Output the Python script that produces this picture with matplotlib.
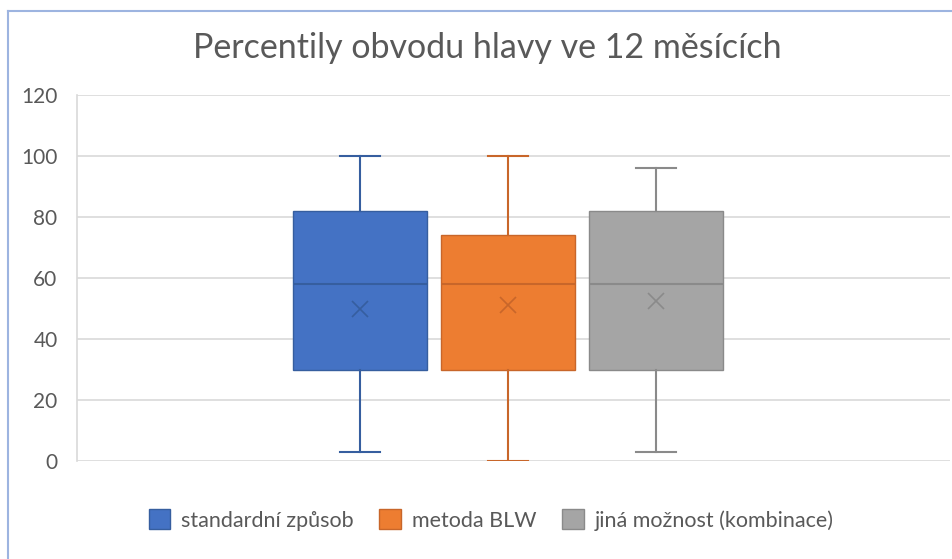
import matplotlib
matplotlib.use("Agg")
import matplotlib.pyplot as plt
from matplotlib.patches import Patch
from matplotlib.lines import Line2D

plt.rcParams['font.family'] = ['Lato', 'DejaVu Sans']

# Percentile summary per feeding method
series = ["standardní způsob", "metoda BLW", "jiná možnost (kombinace)"]
whisker_low = [3, 0, 3]
q1 = [30, 30, 30]
median = [58, 58, 58]
q3 = [82, 74, 82]
whisker_high = [100, 100, 96]
mean = [50, 51.3, 52.4]
y_ticks = [0, 20, 40, 60, 80, 100, 120]

fill_colors = ["#4472C4", "#ED7D31", "#A5A5A5"]
dark_colors = ["#365E9F", "#C8662A", "#8A8A8A"]

fig = plt.figure(figsize=(9.53, 5.59), dpi=100)
ax = fig.add_axes([77 / 953, 98 / 559, 873 / 953, 366 / 559])

positions = [-1, 0, 1]
for i in range(len(series)):
    stats = [dict(whislo=whisker_low[i], q1=q1[i], med=median[i], q3=q3[i],
                  whishi=whisker_high[i], mean=mean[i])]
    ax.bxp(stats, positions=[positions[i]], widths=0.905, patch_artist=True,
           showmeans=True, showfliers=False, capwidths=0.27,
           boxprops=dict(facecolor=fill_colors[i], edgecolor=dark_colors[i], linewidth=1.0),
           medianprops=dict(color=dark_colors[i], linewidth=1.5),
           whiskerprops=dict(color=dark_colors[i], linewidth=1.5),
           capprops=dict(color=dark_colors[i], linewidth=1.5),
           meanprops=dict(marker='x', markeredgecolor=dark_colors[i],
                          markersize=12, markeredgewidth=1.2))

ax.set_xlim(-2.912, 2.986)
ax.set_ylim(0, 120)
ax.set_yticks(y_ticks)
ax.set_xticks([])
ax.grid(axis='y', color='#D9D9D9', linewidth=1.2, zorder=0)
ax.set_axisbelow(True)
for side in ['top', 'right', 'bottom']:
    ax.spines[side].set_visible(False)
ax.spines['left'].set_color('#D9D9D9')
ax.spines['left'].set_linewidth(1.2)
ax.tick_params(axis='y', length=0, pad=14, labelsize=15, labelcolor='#595959')

fig.text(487 / 953, 1 - 48 / 559, "Percentily obvodu hlavy ve 12 měsících",
         ha='center', va='center', fontsize=24.5, color='#595959')

handles = [Patch(facecolor=fill_colors[i], edgecolor=dark_colors[i], label=series[i])
           for i in range(len(series))]
fig.legend(handles=handles, loc='center', bbox_to_anchor=(491 / 953, 1 - 520 / 559),
           ncol=3, frameon=False, fontsize=15.5, labelcolor='#595959',
           handlelength=1.0, handleheight=1.0, handletextpad=0.5, columnspacing=1.2)

# chart frame lines on the top and left edges
fig.add_artist(Line2D([8 / 953, 8 / 953], [0, 1 - 11 / 559], transform=fig.transFigure,
                      color='#9DB4E0', linewidth=1.5))
fig.add_artist(Line2D([8 / 953, 1], [1 - 11 / 559, 1 - 11 / 559], transform=fig.transFigure,
                      color='#9DB4E0', linewidth=1.5))

fig.savefig("out.png", dpi=100)
